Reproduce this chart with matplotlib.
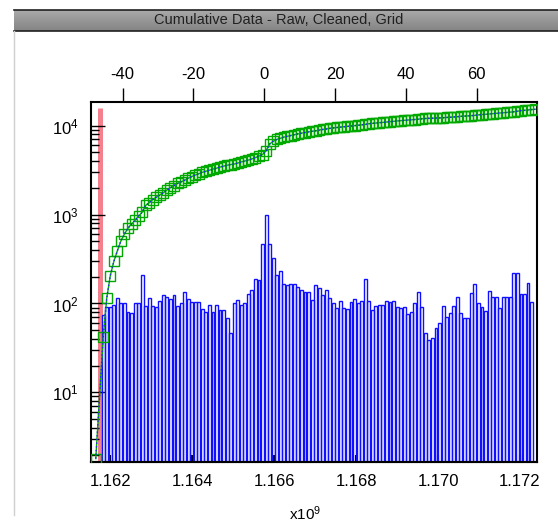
import numpy as np
import matplotlib
matplotlib.use("Agg")
import matplotlib.pyplot as plt
from matplotlib.ticker import FixedLocator, NullFormatter

plt.rcParams['font.family'] = ['Liberation Sans', 'DejaVu Sans']
plt.rcParams['mathtext.fontset'] = 'custom'
plt.rcParams['mathtext.rm'] = 'Liberation Sans'
plt.rcParams['mathtext.it'] = 'Liberation Sans'
plt.rcParams['axes.unicode_minus'] = False

# ---------------- data ----------------
# histogram counts, one per unit-wide bin (top-axis units), first bin starts at bin_start
counts = [73, 91, 91, 95, 114, 99, 99, 80, 78, 100,
          100, 206, 93, 114, 92, 91, 105, 125, 117, 112,
          124, 93, 99, 133, 110, 103, 103, 103, 85, 80,
          95, 80, 95, 83, 83, 67, 46, 99, 108, 95,
          99, 126, 140, 189, 181, 468, 1000, 460, 326, 206,
          228, 163, 159, 166, 166, 152, 142, 134, 134, 108,
          159, 150, 123, 142, 114, 100, 88, 106, 88, 85,
          102, 110, 99, 106, 189, 106, 83, 92, 95, 95,
          106, 103, 106, 91, 87, 91, 76, 80, 100, 132,
          91, 45, 38, 40, 52, 60, 92, 70, 78, 92,
          117, 78, 67, 67, 130, 166, 99, 91, 82, 137,
          117, 117, 89, 117, 117, 117, 218, 218, 128, 128,
          169, 104]
bin_start = -46

# leading points of the cumulative curve (before the histogram bins)
cum_lead_pos = [-47.6, -45.5]
cum_lead_val = [1.8, 42]

red_line_pos = -46.3
red_line_top = 15800

top_ticks = [-40, -20, 0, 20, 40, 60]
bottom_ticks = [1.162, 1.164, 1.166, 1.168, 1.170, 1.172]
bottom_labels = ['1.162', '1.164', '1.166', '1.168', '1.170', '1.172']
y_major = [10, 100, 1000, 10000]
y_labels = [r'$10^{1}$', r'$10^{2}$', r'$10^{3}$', r'$10^{4}$']

b_origin = 1.165756      # bottom-axis value at top-axis 0 (x1e9)
b_per_unit = 8.645e-5    # bottom-axis units per top-axis unit

title = 'Cumulative Data - Raw, Cleaned, Grid'

# ---------------- figure ----------------
W, H = 558, 526
fig = plt.figure(figsize=(W / 100, H / 100), dpi=100)
fig.patch.set_facecolor('white')

# title bar
tb = fig.add_axes([14 / W, 1 - 31 / H, 1 - 14 / W, 21 / H])
grad = np.linspace(0, 1, 50).reshape(-1, 1)
tb.imshow(grad, aspect='auto', cmap='Greys', vmin=-3.5, vmax=4.5,
          extent=[0, 1, 0, 1])
tb.set_xlim(0, 1)
tb.set_ylim(0, 1)
tb.set_xticks([])
tb.set_yticks([])
for s in ['left', 'right']:
    tb.spines[s].set_visible(False)
for s in ['top', 'bottom']:
    tb.spines[s].set_color('#202020')
    tb.spines[s].set_linewidth(1.2)
tb.text(0.5 - 14 / W / 2, 0.5, title, ha='center', va='center',
        fontsize=10.5, color='#202020', transform=tb.transAxes)

# faint panel border
fig.add_artist(plt.Line2D([14 / W, 14 / W], [0.02, 1 - 31 / H],
                          color='#d0d0d0', lw=1, transform=fig.transFigure))

ax = fig.add_axes([91 / W, 1 - 461.7 / H, 446 / W, 360 / H])
ax.set_yscale('log')
ax.set_xlim(-48.95, 77.03)
ax.set_ylim(1.66, 18600)

# red marker line
ax.vlines(red_line_pos, 1.0, red_line_top, color='#f26a78', lw=3.6,
          alpha=0.85, zorder=1)

# histogram
edges = bin_start + np.arange(len(counts))
ax.bar(edges + 0.5, counts, width=0.82, bottom=1.0, fill=False,
       edgecolor='#1010ff', linewidth=1.0, zorder=2)

# cumulative
cum_pos = np.concatenate([cum_lead_pos,
                          cum_lead_pos[-1] + 1 + np.arange(len(counts))])
cum_val = np.concatenate([cum_lead_val, cum_lead_val[-1] + np.cumsum(counts)])
ax.plot(cum_pos, cum_val, color='#00b000', lw=1.0, marker='s', ms=7.5,
        mfc='none', mec='#00a800', mew=1.0, zorder=3)
ax.plot(cum_pos, cum_val, color='#2020ff', lw=1.0, ls=':', zorder=4)

# top axis (primary x)
ax.xaxis.set_major_locator(FixedLocator(top_ticks))
ax.tick_params(axis='x', which='both', top=True, bottom=False,
               labeltop=True, labelbottom=False, direction='out',
               length=10, width=1, labelsize=12, pad=4, colors='black')
ax.xaxis.set_minor_locator(FixedLocator([]))

# bottom axis (secondary)
sec = ax.secondary_xaxis('bottom',
                         functions=(lambda t: b_origin + t * b_per_unit,
                                    lambda b: (b - b_origin) / b_per_unit))
sec.set_xticks(bottom_ticks)
sec.set_xticklabels(bottom_labels)
sec.tick_params(axis='x', direction='in', length=5, width=1.5,
                labelsize=12, pad=9)
sec.spines['bottom'].set_linewidth(1.5)

# y axis
ax.yaxis.set_major_locator(FixedLocator(y_major))
ax.set_yticklabels(y_labels)
minor = [m * 10 ** e for e in range(0, 5) for m in range(2, 10)]
ax.yaxis.set_minor_locator(FixedLocator(minor))
ax.yaxis.set_minor_formatter(NullFormatter())
ax.tick_params(axis='y', which='major', direction='in', length=10, width=1,
               labelsize=12, pad=9, right=False)
ax.tick_params(axis='y', which='minor', direction='in', length=6, width=1,
               right=False)

for s in ax.spines.values():
    s.set_linewidth(1.5)
    s.set_color('black')

fig.text(305 / W, 1 - 514 / H, r'x10$^{9}$', ha='center', va='center',
         fontsize=11)

fig.savefig('out.png', dpi=100)
